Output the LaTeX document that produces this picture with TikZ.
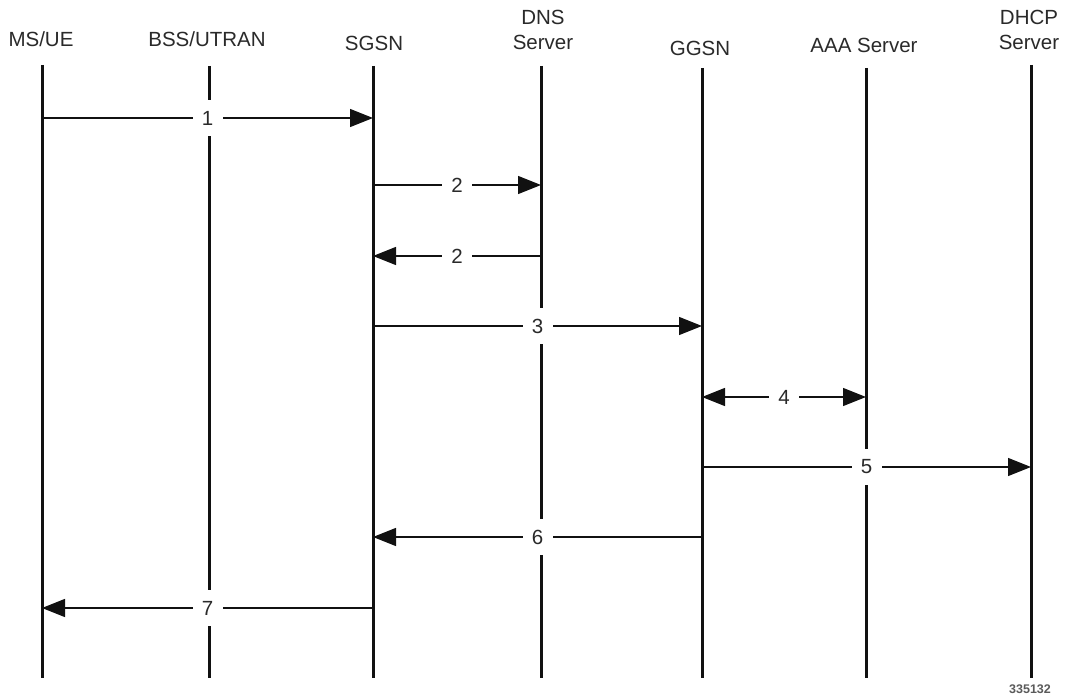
\documentclass[tikz,border=0pt]{standalone}
\usepackage{fontspec}
\setmainfont{Liberation Sans}
\usetikzlibrary{arrows.meta}
\definecolor{txt}{HTML}{2A2A2A}
\definecolor{lin}{HTML}{111111}
\definecolor{idc}{HTML}{5A5A5A}
\begin{document}
\begin{tikzpicture}[x=1pt,y=-1pt,
  head/.style={font=\fontsize{20.5}{25}\selectfont, text=txt, inner sep=0pt, align=center},
  lifeline/.style={line width=3pt, draw=lin},
  msg/.style={line width=1.3pt, draw=lin, -{Triangle[length=23pt,width=18pt]}},
  msgboth/.style={line width=1.3pt, draw=lin, {Triangle[length=23pt,width=18pt]}-{Triangle[length=23pt,width=18pt]}},
  num/.style={fill=white, inner sep=0pt, minimum width=30pt, minimum height=36pt,
    font=\fontsize{20.5}{24}\selectfont, text=txt, midway}]
\useasboundingbox (0,0) rectangle (1065,695);
\fill[white] (0,0) rectangle (1065,695);
% headers
\node[head] (hms)   at (41,39)  {MS/UE};
\node[head] (hbss)  at (207,39) {BSS/UTRAN};
\node[head] (hsgsn) at (374,43) {SGSN};
\node[head] (hdns)  at (543,30) {DNS\\Server};
\node[head] (hggsn) at (700,48) {GGSN};
\node[head] (haaa)  at (864,45) {AAA Server};
\node[head] (hdhcp) at (1029,30) {DHCP\\Server};
% lifelines
\coordinate (msT) at (42,65);    \coordinate (msB) at (42,678);
\coordinate (bssT) at (209,66);  \coordinate (bssB) at (209,678);
\coordinate (sgsnT) at (373,66); \coordinate (sgsnB) at (373,678);
\coordinate (dnsT) at (541,66);  \coordinate (dnsB) at (541,678);
\coordinate (ggsnT) at (702,68); \coordinate (ggsnB) at (702,678);
\coordinate (aaaT) at (866,68);  \coordinate (aaaB) at (866,678);
\coordinate (dhcpT) at (1031,65);\coordinate (dhcpB) at (1031,678);
\foreach \l in {ms,bss,sgsn,dns,ggsn,aaa,dhcp}
  \draw[lifeline] (\l T) -- (\l B);
% rows
\coordinate (r1) at (0,118);
\coordinate (r2) at (0,185);
\coordinate (r3) at (0,256);
\coordinate (r4) at (0,326);
\coordinate (r5) at (0,397);
\coordinate (r6) at (0,467);
\coordinate (r7) at (0,537);
\coordinate (r8) at (0,608);
% messages
\draw[msg] (msT |- r1) -- node[num] (n1) {1} (sgsnT |- r1);
\draw[msg] (sgsnT |- r2) -- node[num] (n2a) {2} (dnsT |- r2);
\draw[msg] (dnsT |- r3) -- node[num] (n2b) {2} (sgsnT |- r3);
\draw[msg] (sgsnT |- r4) -- node[num] (n3) {3} (ggsnT |- r4);
\draw[msgboth] (ggsnT |- r5) -- node[num] (n4) {4} (aaaT |- r5);
\draw[msg] (ggsnT |- r6) -- node[num] (n5) {5} (dhcpT |- r6);
\draw[msg] (ggsnT |- r7) -- node[num] (n6) {6} (sgsnT |- r7);
\draw[msg] (sgsnT |- r8) -- node[num] (n7) {7} (msT |- r8);
% figure id
\node[font=\fontsize{12.5}{14}\selectfont\bfseries, text=idc, inner sep=0pt] (fid) at (1030,689) {335132};
\end{tikzpicture}
\end{document}
